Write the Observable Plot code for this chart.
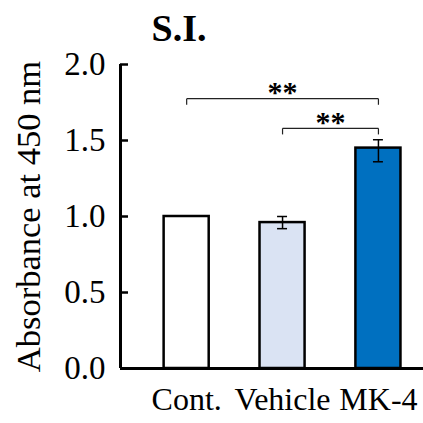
<!DOCTYPE html>
<html><head><meta charset="utf-8">
<script src="https://cdn.jsdelivr.net/npm/d3@7"></script>
<script src="https://cdn.jsdelivr.net/npm/@observablehq/plot@0.6"></script>
<style>
html,body{margin:0;padding:0;background:#fff;}
#chart svg{display:block}
#chart svg text{font-family:"Liberation Serif","Times New Roman",serif !important;}
</style>
</head><body><div id="chart"></div>
<script>
// ---- data ----
const title = "S.I.";
const yLabel = "Absorbance at 450 nm";
const groups = ["Cont.", "Vehicle", "MK-4"];
const means = [1.0, 0.96, 1.45];
const errLow = [null, 0.92, 1.36];
const errHigh = [null, 1.00, 1.505];
const fills = ["#ffffff", "#dae3f3", "#0070c0"];
const yTicks = [0, 0.5, 1.0, 1.5, 2.0];
const bracketFrom = [0, 1];   // index into groups
const bracketTo = [2, 2];
const bracketY = [1.775, 1.58];
const bracketText = ["**", "**"];

// ---- derived tables ----
const barHalf = 0.235, capHalf = 0.052, drop = 0.04;
const xDomain = [-0.69, 2.47];
const bars = groups.map((g, i) => ({i, group: g, mean: means[i], lo: errLow[i], hi: errHigh[i], fill: fills[i]}));
const errs = bars.filter(d => d.lo != null);
const caps = errs.flatMap(d => [{i: d.i, y: d.lo}, {i: d.i, y: d.hi}]);
const brackets = bracketFrom.map((f, k) => ({from: f, to: bracketTo[k], y: bracketY[k], text: bracketText[k]}));
const segs = brackets.flatMap(b => [
  {x1: b.from, x2: b.from, y1: b.y - drop, y2: b.y},
  {x1: b.from, x2: b.to, y1: b.y, y2: b.y},
  {x1: b.to, x2: b.to, y1: b.y, y2: b.y - drop}
]);

const serif = "Liberation Serif";

const chart = Plot.plot({
  width: 423, height: 423,
  marginTop: 64, marginBottom: 55, marginLeft: 120, marginRight: 0,
  style: {fontFamily: serif, fontSize: "32px", color: "#000", background: "#fff", overflow: "visible"},
  x: {type: "linear", domain: xDomain, axis: null},
  y: {domain: [0, 2], axis: null},
  marks: [
    Plot.rectY(bars, {x1: d => d.i - barHalf, x2: d => d.i + barHalf, y1: 0, y2: "mean", fill: "fill", stroke: "#000", strokeWidth: 2.5}),
    Plot.ruleX(errs, {x: "i", y1: "lo", y2: "hi", stroke: "#000", strokeWidth: 1.5}),
    Plot.ruleY(caps, {y: "y", x1: d => d.i - capHalf, x2: d => d.i + capHalf, stroke: "#000", strokeWidth: 1.5}),
    Plot.link(segs, {x1: "x1", y1: "y1", x2: "x2", y2: "y2", stroke: "#222", strokeWidth: 1.2}),
    Plot.text(brackets, {x: d => (d.from + d.to) / 2, y: "y", text: "text", dy: -6, fontSize: 30, fontWeight: "bold", fontFamily: serif}),
    Plot.axisY({ticks: yTicks, tickFormat: d3.format(".1f"), tickSize: -8, tickPadding: 23, strokeWidth: 2.5, fontSize: 33, fontFamily: serif}),
    Plot.ruleX([xDomain[0]], {y1: 0, y2: 2, stroke: "#000", strokeWidth: 3}),
    Plot.ruleY([0], {stroke: "#000", strokeWidth: 3}),
    Plot.axisX({ticks: bars.map(d => d.i), tickFormat: i => groups[i], tickSize: 0, tickPadding: 19, fontSize: 32, fontFamily: serif}),
    Plot.text([yLabel], {frameAnchor: "left", textAnchor: "middle", lineAnchor: "middle", rotate: -90, dx: -92, fontSize: 34.5, fontFamily: serif}),
    Plot.text([title], {frameAnchor: "top-left", textAnchor: "middle", lineAnchor: "middle", dx: 58.5, dy: -35.5, fontSize: 38, fontWeight: "bold", fontFamily: serif})
  ]
});
document.getElementById("chart").append(chart);
</script>
</body></html>
